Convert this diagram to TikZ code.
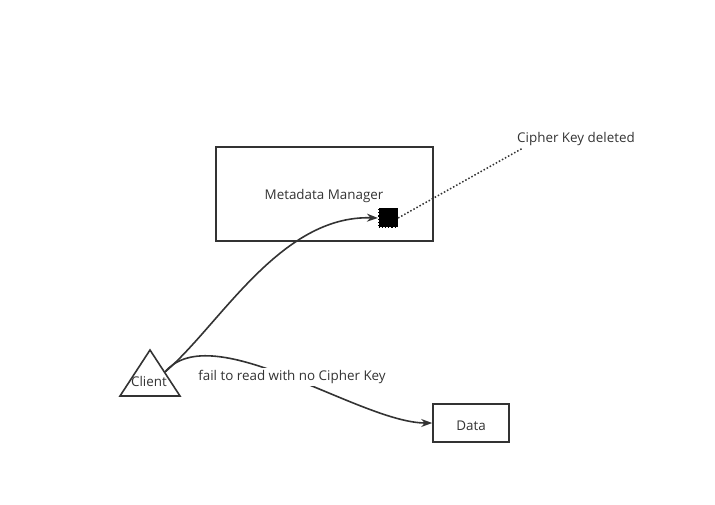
\documentclass[tikz,border=0pt]{standalone}
\usepackage{fontspec}
\setmainfont{Open Sans}
\usetikzlibrary{arrows.meta}
\definecolor{ln}{HTML}{333333}
\begin{document}
\begin{tikzpicture}[x=1pt,y=-1pt,
  lbl/.style={font=\fontsize{13.4}{15}\selectfont,text=ln,inner sep=1pt},
  conn/.style={draw=ln,line width=1.6pt,-{Stealth[length=11pt,width=8pt]}}]
\useasboundingbox (0,0) rectangle (715,505);
\node[draw=ln,line width=1.6pt,minimum width=217pt,minimum height=94pt,inner sep=0pt] (mm) at (324.5,194) {};
\node[lbl] (mmt) at (324,196) {Metadata Manager};
\node[draw=black,dotted,fill=black,minimum size=19pt,inner sep=0pt,line width=1.2pt] (sq) at (388,218) {};
\node[lbl] (ckd) at (576,139) {Cipher Key deleted};
\coordinate (ckend) at (523,148);
\draw[ln,dotted,line width=1.5pt] (sq.east) -- (ckend);
\node[draw=ln,line width=1.6pt,minimum width=76pt,minimum height=38pt,inner sep=0pt] (data) at (471,423) {};
\node[lbl] (datat) at (471,426) {Data};
\draw[ln,line width=1.6pt,line join=miter] (150,350) coordinate (tt) -- (180,396) -- (120,396) -- cycle;
\node[lbl] (cl) at (149,381) {Client};
\coordinate (cs) at (165,372);
\draw[conn] (cs) .. controls (220,325) and (280,215) .. (sq.west);
\draw[conn] (cs) .. controls (212,316) and (360,423) .. (data.west);
\node[lbl,fill=white,inner sep=2pt] (fail) at (292,377) {fail to read with no Cipher Key};
\end{tikzpicture}
\end{document}
